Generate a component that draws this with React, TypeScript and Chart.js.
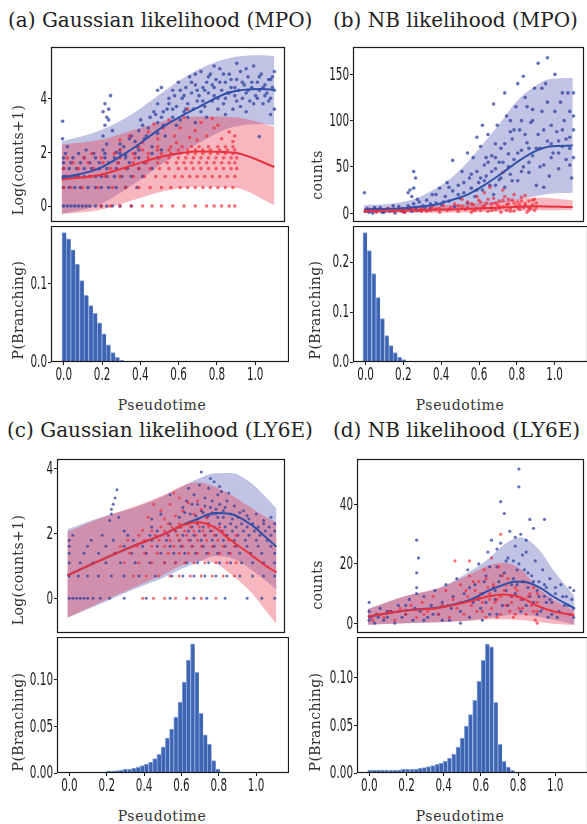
import React, { useEffect, useRef } from 'react';
import { Chart, registerables } from 'chart.js';
Chart.register(...registerables);

const TICK_FONT = "17px 'DejaVu Sans Condensed', 'DejaVu Sans', sans-serif";
const TICK_SQUEEZE = 0.68;
const SERIF = "'DejaVu Serif', 'Liberation Serif', serif";

const BLUE_FILL = 'rgba(70,78,172,0.34)';
const RED_FILL = 'rgba(236,52,78,0.36)';
const BLUE_PT = 'rgba(40,60,158,0.72)';
const RED_PT = 'rgba(240,40,55,0.68)';
const BLUE_LINE = '#2f4fa8';
const RED_LINE = '#e8323e';
const BAR_FILL = '#3e65b3';
const BAR_EDGE = '#8ba5d8';

// ---------- shared ticks ----------
const X_TICKS = [0, 0.2, 0.4, 0.6, 0.8, 1.0];
const X_MIN = -0.0665;
const X_MAX = 1.1765;

// ---------- (a) Gaussian likelihood (MPO) ----------
const aBandX = [-0.01, 0.19, 0.36, 0.53, 0.71, 0.88, 1.05, 1.12];
const aBlueUpper = [2.4, 2.8, 3.4, 4.25, 5.05, 5.5, 5.6, 5.57];
const aBlueMean = [1.04, 1.4, 2.1, 2.95, 3.65, 4.22, 4.35, 4.32];
const aBlueLower = [-0.3, 0.05, 0.75, 1.6, 2.3, 2.9, 3.05, 3.0];
const aRedX = [-0.01, 0.19, 0.36, 0.53, 0.71, 0.91, 1.12];
const aRedUpper = [2.28, 2.45, 2.8, 3.15, 3.33, 3.3, 2.95];
const aRedMean = [0.98, 1.15, 1.5, 1.85, 2.03, 1.98, 1.45];
const aRedLower = [-0.3, -0.15, 0.2, 0.55, 0.72, 0.68, 0.03];
const aBlueLevels = [0, 0.69, 1.1, 1.39, 1.61, 1.79, 1.95, 2.08];
const aBlueRows = [
  [0, 0.02, 0.04, 0.06, 0.08, 0.1, 0.12, 0.14, 0.17, 0.2, 0.23, 0.26, 0.3, 0.36],
  [0, 0.03, 0.06, 0.09, 0.13, 0.17, 0.2, 0.24, 0.28, 0.33, 0.39],
  [0, 0.01, 0.02, 0.04, 0.06, 0.08, 0.11, 0.14, 0.17, 0.2, 0.23, 0.27, 0.31, 0.36, 0.42],
  [0, 0.03, 0.07, 0.11, 0.15, 0.19, 0.23, 0.28, 0.34, 0.4, 0.47],
  [0, 0.04, 0.09, 0.14, 0.19, 0.24, 0.29, 0.35, 0.43],
  [0, 0.05, 0.11, 0.17, 0.22, 0.27, 0.33, 0.4, 0.5],
  [0.01, 0.08, 0.16, 0.22, 0.3, 0.38, 0.47],
  [0.12, 0.21, 0.3, 0.4, 0.52],
];
const aBlueCloud = [
  -0.005, 3.15, -0.005, 2.5, 0.02, 2.2, 0.21, 2.6, 0.22, 3.0, 0.23, 3.3, 0.24, 3.6, 0.22, 3.8, 0.25, 4.1,
  0.23, 2.3, 0.26, 2.8, 0.24, 3.2, 0.21, 3.5, 0.28, 2.0, 0.3, 2.3, 0.33, 1.9, 0.36, 2.6, 0.39, 2.2,
  0.41, 3.2, 0.43, 2.5, 0.45, 2.9, 0.47, 2.2, 0.49, 3.4, 0.5, 2.7, 0.5, 4.3, 0.52, 3.3, 0.54, 2.6,
  0.32, 2.2, 0.35, 2.5, 0.38, 2.4, 0.4, 2.8, 0.42, 3.0, 0.44, 2.6, 0.46, 3.3, 0.48, 3.5, 0.5, 3.1,
  0.5, 3.8, 0.52, 4.4, 0.53, 3.0, 0.55, 3.6, 0.56, 4.0, 0.58, 3.3, 0.58, 4.3, 0.6, 3.7, 0.61, 4.6,
  0.62, 3.2, 0.63, 4.0, 0.64, 3.5, 0.65, 4.4, 0.66, 3.8, 0.67, 4.8, 0.68, 4.2, 0.69, 3.6, 0.7, 4.5,
  0.71, 3.9, 0.72, 4.1, 0.73, 5.0, 0.74, 4.4, 0.75, 3.7, 0.76, 4.6, 0.77, 4.2, 0.78, 4.9, 0.79, 3.9,
  0.8, 4.4, 0.81, 4.7, 0.82, 4.0, 0.83, 5.1, 0.84, 4.3, 0.85, 3.8, 0.86, 4.6, 0.87, 4.2, 0.88, 4.9,
  0.89, 4.4, 0.9, 3.6, 0.91, 4.1, 0.92, 4.7, 0.93, 4.3, 0.94, 5.0, 0.95, 4.0, 0.96, 4.5, 0.97, 4.2,
  0.98, 4.8, 0.99, 3.9, 1.0, 4.4, 1.01, 5.2, 1.02, 4.1, 1.03, 4.6, 1.04, 4.3, 1.05, 4.9, 1.06, 3.8,
  1.07, 4.5, 1.08, 4.2, 1.09, 4.7, 1.1, 4.0, 1.11, 4.4, 1.12, 3.6, 1.12, 5.0, 1.04, 2.58, 0.76, 3.3,
  0.86, 3.4, 0.97, 3.5, 1.1, 3.4, 0.7, 3.1, 0.92, 5.3, 0.8, 5.2,
  0.56, 3.8, 0.59, 4.1, 0.62, 4.3, 0.65, 3.6, 0.68, 4.6, 0.71, 4.3, 0.74, 3.9, 0.77, 4.8, 0.8, 4.1,
  0.83, 4.6, 0.86, 4.0, 0.89, 4.7, 0.92, 3.9, 0.95, 4.6, 0.98, 4.3, 1.01, 3.8, 1.04, 4.8, 1.07, 4.1,
  1.1, 4.7, 1.12, 4.3, 0.6, 3.0, 0.66, 3.3, 0.73, 3.5, 0.79, 4.5, 0.85, 4.9, 0.91, 4.4, 0.97, 5.1,
  1.03, 4.0, 1.09, 3.9, 0.7, 4.9, 0.64, 4.1, 0.75, 4.3, 0.82, 3.6, 0.88, 4.2, 0.94, 3.7, 1.0, 4.6,
  1.06, 4.4, 1.11, 4.8, 0.58, 3.6, 0.53, 3.5,
];
const aRedLevels = [0, 0.69, 1.1, 1.39, 1.61, 1.79, 1.95, 2.08, 2.2];
const aRedRows = [
  [0.2, 0.25, 0.3, 0.36, 0.42, 0.47, 0.52, 0.58, 0.64, 0.7, 0.76, 0.8, 0.84, 0.88, 0.91],
  [0, 0.04, 0.1, 0.18, 0.26, 0.33, 0.4, 0.46, 0.52, 0.57, 0.62, 0.66, 0.7, 0.74, 0.78, 0.82, 0.86, 0.9],
  [0.02, 0.07, 0.14, 0.22, 0.3, 0.37, 0.43, 0.49, 0.54, 0.59, 0.63, 0.67, 0.71, 0.75, 0.79, 0.83, 0.87, 0.91],
  [0, 0.08, 0.16, 0.25, 0.33, 0.4, 0.46, 0.51, 0.56, 0.61, 0.65, 0.69, 0.73, 0.77, 0.81, 0.85, 0.89, 0.92],
  [0.05, 0.13, 0.21, 0.29, 0.37, 0.44, 0.5, 0.55, 0.6, 0.64, 0.68, 0.72, 0.76, 0.8, 0.84, 0.88, 0.91],
  [0.02, 0.11, 0.2, 0.3, 0.38, 0.45, 0.51, 0.56, 0.61, 0.65, 0.69, 0.73, 0.77, 0.81, 0.85, 0.89, 0.92],
  [0.15, 0.27, 0.37, 0.45, 0.52, 0.57, 0.62, 0.66, 0.7, 0.74, 0.78, 0.82, 0.86, 0.9],
  [0.3, 0.42, 0.5, 0.56, 0.61, 0.66, 0.7, 0.74, 0.78, 0.83, 0.87, 0.91],
  [0.4, 0.5, 0.57, 0.63, 0.68, 0.72, 0.77, 0.82, 0.86, 0.9],
];
const aRedCloud = [
  0.3, 2.45, 0.35, 2.6, 0.42, 2.35, 0.45, 2.75, 0.5, 2.5, 0.53, 2.9, 0.56, 3.2, 0.59, 2.6, 0.62, 2.9,
  0.64, 3.3, 0.67, 2.55, 0.7, 2.8, 0.73, 3.1, 0.76, 2.6, 0.8, 2.9, 0.84, 2.5, 0.88, 2.75, 0.91, 2.6,
  0.6, 2.35, 0.66, 3.6, 0.82, 3.0, 0.9, 2.4, 0.48, 3.05, 0.71, 2.45, 0.79, 3.25,
];
const aHistX = [0.002, 0.025, 0.048, 0.071, 0.094, 0.118, 0.141, 0.164, 0.187, 0.21, 0.233, 0.257, 0.28, 0.303];
const aHistY = [0.165, 0.157, 0.143, 0.125, 0.104, 0.085, 0.072, 0.062, 0.05, 0.036, 0.022, 0.012, 0.006, 0.002];

// ---------- (b) NB likelihood (MPO) ----------
const bBandX = [-0.007, 0.108, 0.196, 0.285, 0.373, 0.461, 0.55, 0.638, 0.727, 0.815, 0.904, 0.992, 1.116];
const bBlueUpper = [8.7, 9.5, 12, 17, 26, 38, 55, 76, 98, 121, 136, 145, 146];
const bBlueMean = [4, 4.5, 5, 7, 9, 14, 20, 30, 42, 55, 66, 72, 73];
const bBlueLower = [0.5, 0.6, 0.8, 1.2, 1.8, 2.8, 4.5, 7, 10.5, 14, 18, 21, 22];
const bRedX = [-0.007, 0.196, 0.373, 0.55, 0.727, 0.92, 1.116];
const bRedUpper = [5, 6, 8, 10, 13, 17, 14];
const bRedMean = [2.5, 3, 3.8, 4.5, 6, 7.5, 6.5];
const bRedLower = [0.2, 0.3, 0.5, 0.8, 1.5, 3, 3.5];
const bBluePts = [
  0, 2, 0.01, 5, 0.02, 1, 0.03, 3, 0.04, 0, 0.05, 4, 0.06, 2, 0.08, 6, 0.09, 1, 0.1, 3, 0.12, 5, 0.13, 2,
  0.15, 4, 0.16, 0, 0.18, 7, 0.19, 3, 0.2, 5, 0.21, 1, 0.23, 8, 0.24, 4, 0.25, 2, 0.26, 10, 0.27, 6,
  0.28, 3, 0.29, 12, -0.005, 22, 0.23, 22, 0.24, 25, 0.25, 18, 0.26, 27, 0.27, 38, 0.28, 15, 0.26, 45,
  0.31, 8, 0.33, 14, 0.35, 5, 0.36, 20, 0.38, 11, 0.4, 27, 0.41, 9, 0.43, 18, 0.44, 33, 0.45, 13,
  0.47, 24, 0.48, 7, 0.5, 30, 0.51, 16, 0.52, 45, 0.53, 22, 0.55, 11, 0.56, 38, 0.57, 27, 0.58, 60,
  0.59, 18, 0.6, 45, 0.61, 33, 0.62, 72, 0.63, 25, 0.64, 52, 0.65, 40, 0.66, 85, 0.67, 30, 0.68, 62,
  0.69, 20, 0.7, 48, 0.71, 95, 0.72, 36, 0.73, 70, 0.74, 55, 0.75, 28, 0.76, 105, 0.77, 64, 0.78, 42,
  0.79, 80, 0.8, 58, 0.81, 115, 0.82, 35, 0.83, 90, 0.84, 68, 0.85, 50, 0.86, 125, 0.87, 76, 0.88, 44,
  0.89, 98, 0.9, 62, 0.91, 135, 0.92, 30, 0.93, 85, 0.94, 70, 0.95, 110, 0.96, 52, 0.97, 140, 0.98, 78,
  0.99, 40, 1.0, 95, 1.01, 65, 1.02, 150, 1.03, 88, 1.04, 48, 1.05, 120, 1.06, 72, 1.07, 100, 1.08, 58,
  1.09, 130, 1.1, 82, 1.11, 38, 1.12, 105, 1.12, 60, 0.98, 168, 0.93, 162, 0.85, 148, 0.82, 140,
  0.75, 130, 0.69, 118, 0.55, 65, 0.6, 82, 0.63, 95, 0.47, 57, 0.7, 75, 0.78, 88, 0.9, 112, 1.0, 60,
  1.06, 90, 0.96, 28, 1.1, 52, 0.84, 100, 0.73, 38, 0.66, 55, 0.88, 70, 1.04, 78,
  0.6, 25, 0.62, 38, 0.65, 60, 0.68, 45, 0.7, 30, 0.72, 55, 0.75, 75, 0.77, 50, 0.79, 35, 0.8, 90,
  0.82, 65, 0.84, 45, 0.86, 85, 0.88, 55, 0.9, 100, 0.92, 70, 0.94, 50, 0.96, 90, 0.98, 120, 1.0, 75,
  1.02, 110, 1.04, 65, 1.06, 130, 1.08, 80, 1.1, 110, 1.12, 90, 1.12, 130, 1.1, 70, 0.95, 135,
  0.87, 115, 0.78, 100, 0.7, 60, 0.64, 35, 0.57, 42, 0.53, 33, 0.5, 20, 0.45, 28, 0.42, 12, 0.38, 20,
  0.35, 10, 0.32, 6, 0.3, 3, 0.2, 2, 0.1, 1, 0.05, 6, 0.15, 8,
];
const bRedPts = [
  0, 2, 0.03, 4, 0.06, 1, 0.09, 3, 0.12, 5, 0.15, 2, 0.18, 4, 0.21, 1, 0.24, 6, 0.27, 3, 0.3, 5, 0.33, 2,
  0.36, 7, 0.38, 4, 0.4, 1, 0.42, 8, 0.44, 3, 0.46, 6, 0.48, 10, 0.5, 2, 0.52, 7, 0.54, 4, 0.55, 12,
  0.57, 1, 0.58, 9, 0.6, 5, 0.61, 14, 0.62, 3, 0.64, 8, 0.65, 11, 0.66, 2, 0.68, 6, 0.69, 16, 0.7, 4,
  0.71, 9, 0.72, 13, 0.73, 1, 0.74, 7, 0.75, 18, 0.76, 3, 0.77, 10, 0.78, 5, 0.79, 14, 0.8, 2, 0.81, 8,
  0.82, 12, 0.83, 4, 0.84, 17, 0.85, 6, 0.86, 10, 0.87, 1, 0.88, 13, 0.89, 5, 0.9, 9, 0.91, 3, 0.92, 11,
  0.64, 22, 0.74, 44, 0.67, 28, 0.74, 25, 0.6, 18, 0.52, 15, 0.8, 20, 0.86, 19, 0.58, 3, 0.63, 6,
  0.68, 10, 0.72, 5, 0.77, 15, 0.83, 9, 0.88, 6, 0.91, 15,
  0.55, 6, 0.57, 10, 0.59, 3, 0.62, 12, 0.64, 5, 0.66, 15, 0.68, 3, 0.7, 11, 0.72, 7, 0.74, 14,
  0.76, 9, 0.78, 2, 0.8, 11, 0.82, 6, 0.84, 13, 0.86, 8, 0.88, 3, 0.9, 14, 0.92, 6, 0.5, 8, 0.45, 4,
  0.4, 5, 0.35, 3, 0.3, 2, 0.25, 4, 0.2, 2,
];
const bHistX = [-0.003, 0.02, 0.043, 0.066, 0.089, 0.112, 0.134, 0.157, 0.18, 0.203];
const bHistY = [0.259, 0.223, 0.177, 0.129, 0.087, 0.053, 0.033, 0.019, 0.01, 0.005];

// ---------- (c) Gaussian likelihood (LY6E) ----------
const cBandX = [-0.01, 0.16, 0.34, 0.52, 0.63, 0.7, 0.79, 0.88, 0.99, 1.06, 1.13];
const cBlueUpper = [2.13, 2.48, 2.77, 3.17, 3.5, 3.68, 3.86, 3.87, 3.57, 3.2, 2.77];
const cBlueMean = [0.71, 1.15, 1.59, 1.99, 2.3, 2.45, 2.63, 2.6, 2.28, 1.95, 1.59];
const cBlueLower = [-0.6, -0.2, 0.25, 0.65, 0.95, 1.1, 1.3, 1.25, 0.9, 0.6, 0.27];
const cRedUpper = [2.05, 2.45, 2.8, 3.2, 3.5, 3.58, 3.45, 3.2, 2.8, 2.55, 2.35];
const cRedMean = [0.71, 1.15, 1.59, 1.99, 2.28, 2.35, 2.2, 1.8, 1.35, 1.05, 0.8];
const cRedLower = [-0.6, -0.15, 0.3, 0.75, 1.05, 1.15, 1.1, 0.75, 0.2, -0.3, -0.8];
const cBlueLevels = [0, 0.69, 1.1, 1.39, 1.61, 1.79, 1.95, 2.08, 2.2, 2.3];
const cBlueRows = [
  [0, 0.02, 0.04, 0.06, 0.08, 0.1, 0.13, 0.17, 0.22, 0.3, 0.42, 0.55, 0.68, 0.75, 0.85, 0.97, 1.05, 1.12],
  [0, 0.05, 0.1, 0.16, 0.23, 0.3, 0.38, 0.47, 0.56, 0.62, 0.68, 0.74, 0.8, 0.86, 0.93, 1.0, 1.06, 1.12],
  [0, 0.06, 0.13, 0.2, 0.28, 0.36, 0.44, 0.52, 0.58, 0.64, 0.7, 0.76, 0.82, 0.88, 0.94, 1.0, 1.06, 1.12],
  [0, 0.08, 0.16, 0.25, 0.34, 0.42, 0.5, 0.57, 0.63, 0.69, 0.75, 0.81, 0.87, 0.93, 0.99, 1.05, 1.12],
  [0, 0.1, 0.2, 0.3, 0.4, 0.48, 0.55, 0.61, 0.67, 0.73, 0.79, 0.85, 0.91, 0.97, 1.03, 1.1],
  [0, 0.12, 0.24, 0.35, 0.45, 0.53, 0.6, 0.66, 0.72, 0.78, 0.84, 0.9, 0.96, 1.02, 1.08],
  [0.02, 0.18, 0.32, 0.44, 0.54, 0.62, 0.68, 0.74, 0.8, 0.86, 0.92, 0.98, 1.04, 1.1],
  [0.3, 0.48, 0.58, 0.65, 0.71, 0.77, 0.83, 0.89, 0.95, 1.01, 1.07, 1.12],
  [0.45, 0.6, 0.67, 0.73, 0.79, 0.85, 0.91, 0.97, 1.03, 1.09],
  [0.55, 0.64, 0.7, 0.76, 0.82, 0.88, 0.94, 1.0, 1.06, 1.12],
];
const cBlueCloud = [
  0.22, 2.4, 0.23, 2.6, 0.24, 2.9, 0.25, 3.1, 0.26, 3.35, 0.23, 2.75, 0.27, 2.5, 0.6, 2.5, 0.62, 2.8,
  0.64, 3.0, 0.66, 2.6, 0.68, 3.2, 0.7, 2.9, 0.71, 3.5, 0.72, 2.7, 0.74, 3.1, 0.75, 2.5, 0.76, 3.4,
  0.77, 2.8, 0.78, 3.0, 0.79, 3.6, 0.8, 2.6, 0.81, 3.2, 0.82, 2.9, 0.83, 3.3, 0.84, 2.7, 0.86, 3.0,
  0.88, 2.6, 0.9, 2.85, 0.92, 2.5, 0.95, 2.7, 0.98, 2.45, 1.02, 2.6, 1.06, 2.4, 1.1, 2.5, 0.72, 3.9,
  0.55, 3.2, 0.5, 2.6, 0.45, 2.45, 0.69, 2.55, 0.73, 2.65, 0.76, 2.55, 0.8, 2.75, 0.84, 2.5, 0.87, 3.25,
  0.63, 2.65, 0.67, 2.9, 0.7, 2.45, 0.74, 2.85, 0.78, 2.6, 0.81, 2.5, 0.85, 2.8, 0.89, 2.45, 0.93, 2.65,
  0.97, 2.55, 0.65, 3.4, 0.77, 3.7, 0.82, 3.45,
];
const cRedLevels = [0, 0.69, 1.1, 1.39, 1.61, 1.79, 1.95, 2.08, 2.2, 2.3];
const cRedRows = [
  [0.4, 0.46, 0.52, 0.58, 0.64, 0.72, 0.8],
  [0.35, 0.42, 0.49, 0.55, 0.6, 0.66, 0.72, 0.78, 0.84, 0.9],
  [0.3, 0.38, 0.45, 0.52, 0.58, 0.63, 0.68, 0.74, 0.8, 0.86, 0.91],
  [0.25, 0.33, 0.41, 0.48, 0.54, 0.6, 0.65, 0.7, 0.76, 0.82, 0.88],
  [0.28, 0.37, 0.45, 0.52, 0.57, 0.62, 0.67, 0.72, 0.78, 0.84, 0.9],
  [0.32, 0.41, 0.49, 0.55, 0.6, 0.65, 0.7, 0.75, 0.81, 0.87],
  [0.38, 0.47, 0.54, 0.59, 0.64, 0.69, 0.74, 0.79, 0.85, 0.91],
  [0.45, 0.52, 0.58, 0.63, 0.68, 0.73, 0.78, 0.84],
  [0.5, 0.56, 0.61, 0.66, 0.71, 0.76, 0.82],
  [0.54, 0.6, 0.65, 0.7, 0.75],
];
const cRedCloud = [
  0.4, 2.1, 0.43, 2.5, 0.5, 2.7, 0.52, 2.45, 0.55, 2.9, 0.58, 2.55, 0.6, 3.1, 0.62, 2.7, 0.65, 2.95,
  0.68, 2.6, 0.7, 3.0, 0.72, 2.75, 0.75, 2.5, 0.78, 2.65, 0.46, 2.9, 0.57, 3.25,
];
const cHistX = [
  0.075, 0.0975, 0.12, 0.1425, 0.165, 0.1875, 0.21, 0.2325, 0.255, 0.2775, 0.3, 0.3225, 0.345, 0.3675,
  0.39, 0.4125, 0.435, 0.4575, 0.48, 0.5025, 0.525, 0.5475, 0.57, 0.5925, 0.615, 0.6375, 0.66, 0.6825,
  0.705, 0.7275, 0.75, 0.7725, 0.795,
];
const cHistY = [
  0.001, 0.001, 0.001, 0.001, 0.0011, 0.0011, 0.0021, 0.0021, 0.0025, 0.0032, 0.0043, 0.0043, 0.0054,
  0.0064, 0.0079, 0.0096, 0.0118, 0.0154, 0.02, 0.028, 0.0375, 0.047, 0.06, 0.076, 0.0975, 0.121, 0.1386,
  0.108, 0.064, 0.041, 0.031, 0.0132, 0.0043,
];

// ---------- (d) NB likelihood (LY6E) ----------
const dBlueX = [-0.007, 0.199, 0.379, 0.558, 0.648, 0.738, 0.792, 0.828, 0.864, 0.935, 1.007, 1.124];
const dBlueUpper = [4.8, 9.2, 11.8, 17.7, 21.5, 26.5, 28.5, 29, 28.3, 24.5, 18, 9.2];
const dBlueMean = [2.2, 4.3, 5.3, 8, 10.8, 13, 14, 14, 13.8, 12, 9, 5];
const dBlueLower = [-0.5, 0, 0.3, 1, 1.8, 2.5, 2.8, 2.8, 2.7, 2.2, 1.2, -0.5];
const dRedX = [-0.007, 0.199, 0.379, 0.558, 0.648, 0.738, 0.828, 0.918, 1.007, 1.124];
const dRedUpper = [4.8, 9.2, 11.8, 16.7, 19.4, 20.4, 18.3, 12.4, 8.1, 4.3];
const dRedMean = [2.2, 4.3, 5.1, 7.5, 9, 9.7, 8.8, 5.9, 4.0, 2.7];
const dRedLower = [-0.5, 0, 0.3, 0.8, 1.2, 1.3, 1.1, 0.5, -0.2, -0.6];
const dBluePts = [
  0, 1, 0, 4, 0, 7, 0.01, 2, 0.03, 0, 0.04, 3, 0.06, 5, 0.08, 1, 0.1, 2, 0.12, 4, 0.14, 0, 0.16, 6,
  0.18, 2, 0.2, 3, 0.22, 8, 0.24, 1, 0.25, 5, 0.26, 12, 0.26, 17, 0.27, 22, 0.26, 28, 0.26, 10, 0.28, 4,
  0.3, 9, 0.32, 2, 0.34, 6, 0.36, 11, 0.38, 3, 0.4, 7, 0.42, 13, 0.44, 1, 0.46, 9, 0.48, 15, 0.5, 4,
  0.52, 10, 0.54, 18, 0.55, 2, 0.57, 7, 0.58, 13, 0.6, 20, 0.61, 5, 0.62, 10, 0.64, 16, 0.65, 24,
  0.66, 3, 0.68, 12, 0.69, 8, 0.7, 19, 0.71, 14, 0.72, 27, 0.73, 6, 0.74, 17, 0.75, 11, 0.76, 22,
  0.77, 31, 0.78, 9, 0.79, 15, 0.8, 26, 0.81, 13, 0.82, 46, 0.82, 52, 0.82, 20, 0.83, 30, 0.84, 8,
  0.85, 18, 0.86, 24, 0.87, 12, 0.88, 35, 0.89, 16, 0.9, 7, 0.91, 21, 0.92, 11, 0.93, 14, 0.94, 4,
  0.95, 18, 0.96, 9, 0.97, 12, 0.98, 2, 0.99, 15, 1.0, 7, 1.02, 10, 1.04, 4, 1.05, 13, 1.07, 6,
  1.08, 9, 1.1, 3, 1.11, 8, 1.12, 5, 1.12, 11, 0.72, 41, 0.74, 37, 0.96, 35, 0.9, 32, 0.67, 28,
  0.8, 10, 0.86, 6, 0.92, 3, 0.97, 7, 1.03, 2, 1.09, 6, 0.79, 21, 0.84, 14, 0.62, 1, 0.5, 0, 0.4, 1,
  0.6, 8, 0.63, 14, 0.66, 19, 0.69, 11, 0.72, 16, 0.75, 21, 0.78, 13, 0.81, 18, 0.84, 23, 0.87, 17,
  0.9, 14, 0.93, 9, 0.96, 13, 0.99, 8, 1.02, 12, 1.06, 9, 1.1, 12, 1.12, 2, 0.7, 3, 0.76, 6, 0.83, 4,
  0.88, 9, 0.95, 5, 1.0, 3, 0.45, 5, 0.35, 3, 0.2, 6, 0.1, 4, 0.05, 2, 0.3, 1, 0.55, 12, 0.64, 7,
  0.7, 25, 0.8, 29, 0.86, 28,
];
const dRedPts = [
  0.02, 1, 0.05, 3, 0.08, 2, 0.11, 4, 0.14, 1, 0.17, 5, 0.2, 3, 0.23, 6, 0.26, 2, 0.29, 7, 0.32, 4,
  0.35, 9, 0.38, 3, 0.4, 6, 0.42, 11, 0.44, 2, 0.46, 8, 0.48, 5, 0.5, 13, 0.52, 3, 0.54, 9, 0.55, 16,
  0.56, 6, 0.58, 11, 0.59, 4, 0.6, 14, 0.62, 7, 0.63, 18, 0.64, 2, 0.66, 10, 0.67, 5, 0.68, 13, 0.7, 8,
  0.71, 19, 0.72, 3, 0.74, 11, 0.75, 6, 0.76, 15, 0.78, 9, 0.79, 2, 0.8, 12, 0.82, 5, 0.83, 8, 0.85, 14,
  0.86, 3, 0.88, 10, 0.89, 6, 0.9, 12, 0.91, 1, 0.92, 7, 0.92, 4, 0.92, 0, 0.92, 10, 0.47, 21,
  0.55, 21, 0.72, 30, 0.67, 22, 0.6, 9, 0.65, 12, 0.69, 7, 0.73, 16, 0.77, 4, 0.81, 9,
  0.5, 7, 0.53, 11, 0.57, 14, 0.61, 10, 0.64, 15, 0.66, 8, 0.69, 12, 0.72, 9, 0.75, 13, 0.78, 7,
  0.81, 11, 0.84, 5, 0.87, 9, 0.9, 4, 0.3, 3, 0.36, 5, 0.43, 6, 0.62, 4, 0.7, 2, 0.8, 3,
];
const dHistX = [
  0.002, 0.025, 0.047, 0.07, 0.092, 0.115, 0.138, 0.16, 0.183, 0.205, 0.228, 0.251, 0.273, 0.296, 0.318,
  0.341, 0.364, 0.386, 0.409, 0.431, 0.454, 0.477, 0.499, 0.522, 0.544, 0.567, 0.59, 0.612, 0.635, 0.657,
  0.68, 0.703, 0.725, 0.748, 0.77,
];
const dHistY = [
  0.0031, 0.0031, 0.0031, 0.0031, 0.0031, 0.0031, 0.0031, 0.0031, 0.0042, 0.0042, 0.0042, 0.0042, 0.0052,
  0.0056, 0.0066, 0.0077, 0.0091, 0.0105, 0.0126, 0.0157, 0.0199, 0.027, 0.0366, 0.049, 0.061, 0.076,
  0.096, 0.118, 0.135, 0.132, 0.074, 0.03, 0.0122, 0.0063, 0.0028,
];

// ---------- helpers ----------
type Pt = { x: number; y: number };
function curve(xs: number[], ys: number[]): Pt[] {
  return xs.map((x, i) => ({ x, y: ys[i] }));
}
function pairs(flat: number[]): Pt[] {
  const out: Pt[] = [];
  for (let i = 0; i + 1 < flat.length; i += 2) out.push({ x: flat[i], y: flat[i + 1] });
  return out;
}
function rows(levels: number[], rs: number[][]): Pt[] {
  const out: Pt[] = [];
  levels.forEach((lv, i) => (rs[i] || []).forEach((x) => out.push({ x, y: lv })));
  return out;
}

const Y_W = 44;
const X_H = 28;

type Box = { l: number; t: number; r: number; b: number };
type Spec = {
  kind: 'top' | 'hist';
  box: Box;
  yMin: number;
  yMax: number;
  yTicks: number[];
  yDec: number;
  datasets: any[];
};

function band(xs: number[], up: number[], lo: number[], color: string, order: number) {
  return [
    { data: curve(xs, up), borderWidth: 0, borderColor: 'rgba(0,0,0,0)', pointRadius: 0, fill: false, tension: 0.4, cubicInterpolationMode: 'monotone', order },
    { data: curve(xs, lo), borderWidth: 0, borderColor: 'rgba(0,0,0,0)', pointRadius: 0, fill: '-1', backgroundColor: color, tension: 0.4, cubicInterpolationMode: 'monotone', order },
  ];
}
function meanLine(xs: number[], ys: number[], color: string, order: number) {
  return { data: curve(xs, ys), borderWidth: 2, borderColor: color, pointRadius: 0, fill: false, tension: 0.4, cubicInterpolationMode: 'monotone', order };
}
function dots(pts: Pt[], color: string, order: number, r = 1.7) {
  return { data: pts, showLine: false, pointRadius: r, pointBorderWidth: 0, pointBackgroundColor: color, borderColor: color, fill: false, order };
}
function hist(xs: number[], ys: number[]) {
  return {
    data: curve(xs, ys),
    backgroundColor: BAR_FILL,
    borderColor: BAR_EDGE,
    borderWidth: { top: 1, left: 1, right: 0, bottom: 0 },
    borderSkipped: false,
    barPercentage: 1,
    categoryPercentage: 1,
  };
}

function topDatasets(
  bx: number[], bu: number[], bm: number[], bl: number[],
  rx: number[], ru: number[], rm: number[], rl: number[],
  bPts: Pt[], rPts: Pt[], r = 1.7,
) {
  return [
    ...band(bx, bu, bl, BLUE_FILL, 30),
    ...band(rx, ru, rl, RED_FILL, 20),
    dots(bPts, BLUE_PT, 12, r),
    dots(rPts, RED_PT, 11, r),
    meanLine(bx, bm, BLUE_LINE, 2),
    meanLine(rx, rm, RED_LINE, 1),
  ];
}

const SPECS: Spec[] = [
  {
    kind: 'top', box: { l: 51, t: 43, r: 289, b: 226 }, yMin: -0.593, yMax: 5.908, yTicks: [0, 2, 4], yDec: 0,
    datasets: topDatasets(aBandX, aBlueUpper, aBlueMean, aBlueLower, aRedX, aRedUpper, aRedMean, aRedLower,
      [...rows(aBlueLevels, aBlueRows), ...pairs(aBlueCloud)], [...rows(aRedLevels, aRedRows), ...pairs(aRedCloud)], 1.8),
  },
  {
    kind: 'hist', box: { l: 51, t: 226, r: 289, b: 362 }, yMin: 0, yMax: 0.1735, yTicks: [0, 0.1], yDec: 1,
    datasets: [hist(aHistX, aHistY)],
  },
  {
    kind: 'top', box: { l: 353, t: 43, r: 588, b: 226 }, yMin: -9.6, yMax: 179.6, yTicks: [0, 50, 100, 150], yDec: 0,
    datasets: topDatasets(bBandX, bBlueUpper, bBlueMean, bBlueLower, bRedX, bRedUpper, bRedMean, bRedLower,
      pairs(bBluePts), pairs(bRedPts), 1.8),
  },
  {
    kind: 'hist', box: { l: 353, t: 226, r: 588, b: 362 }, yMin: 0, yMax: 0.272, yTicks: [0, 0.1, 0.2], yDec: 1,
    datasets: [hist(bHistX, bHistY)],
  },
  {
    kind: 'top', box: { l: 57, t: 455, r: 289, b: 637 }, yMin: -1.07, yMax: 4.3, yTicks: [0, 2, 4], yDec: 0,
    datasets: topDatasets(cBandX, cBlueUpper, cBlueMean, cBlueLower, cBandX, cRedUpper, cRedMean, cRedLower,
      [...rows(cBlueLevels, cBlueRows), ...pairs(cBlueCloud)], [...rows(cRedLevels, cRedRows), ...pairs(cRedCloud)], 1.5),
  },
  {
    kind: 'hist', box: { l: 57, t: 637, r: 289, b: 773 }, yMin: 0, yMax: 0.1458, yTicks: [0, 0.05, 0.1], yDec: 2,
    datasets: [hist(cHistX, cHistY)],
  },
  {
    kind: 'top', box: { l: 357, t: 455, r: 588, b: 637 }, yMin: -3.32, yMax: 55.4, yTicks: [0, 20, 40], yDec: 0,
    datasets: topDatasets(dBlueX, dBlueUpper, dBlueMean, dBlueLower, dRedX, dRedUpper, dRedMean, dRedLower,
      pairs(dBluePts), pairs(dRedPts), 1.6),
  },
  {
    kind: 'hist', box: { l: 357, t: 637, r: 588, b: 773 }, yMin: 0, yMax: 0.1423, yTicks: [0, 0.05, 0.1], yDec: 2,
    datasets: [hist(dHistX, dHistY)],
  },
];

const framePlugin = {
  id: 'frame',
  afterDraw(chart: any) {
    const { ctx, chartArea: a } = chart;
    ctx.save();
    ctx.strokeStyle = '#1a1a1a';
    ctx.lineWidth = 1.2;
    ctx.strokeRect(a.left + 0.5, a.top + 0.5, a.right - a.left - 1, a.bottom - a.top - 1);
    ctx.restore();
  },
};

// Tick labels in a condensed face, placed with the chart's own scales.
function makeTickLabelPlugin(spec: Spec) {
  return {
    id: 'condensedTicks',
    afterDraw(chart: any) {
      const { ctx, chartArea: a, scales } = chart;
      ctx.save();
      ctx.font = TICK_FONT;
      ctx.fillStyle = '#1a1a1a';
      const ys = scales.y;
      ys.ticks.forEach((t: any) => {
        const py = ys.getPixelForValue(t.value);
        ctx.save();
        ctx.translate(a.left - 4, py);
        ctx.scale(TICK_SQUEEZE, 1);
        ctx.textAlign = 'right';
        ctx.textBaseline = 'middle';
        ctx.fillText(Number(t.value).toFixed(spec.yDec), 0, 1);
        ctx.restore();
      });
      if (spec.kind === 'hist') {
        const xs = scales.x;
        xs.ticks.forEach((t: any) => {
          const px = xs.getPixelForValue(t.value);
          ctx.save();
          ctx.translate(px, a.bottom + 5);
          ctx.scale(TICK_SQUEEZE, 1);
          ctx.textAlign = 'center';
          ctx.textBaseline = 'top';
          ctx.fillText(Number(t.value).toFixed(1), 0, 0);
          ctx.restore();
        });
      }
      ctx.restore();
    },
  };
}

function buildConfig(spec: Spec): any {
  const isHist = spec.kind === 'hist';
  const grid = { display: true, drawOnChartArea: false, drawTicks: true, tickLength: 3, color: '#1a1a1a', lineWidth: 1 };
  return {
    type: isHist ? 'bar' : 'line',
    data: { datasets: spec.datasets },
    plugins: [framePlugin, makeTickLabelPlugin(spec)],
    options: {
      animation: false,
      responsive: false,
      devicePixelRatio: 1,
      events: [],
      layout: { padding: 0 },
      plugins: { legend: { display: false }, tooltip: { enabled: false }, title: { display: false } },
      scales: {
        x: {
          type: 'linear',
          min: X_MIN,
          max: X_MAX,
          offset: false,
          display: isHist,
          grid: { ...grid, offset: false },
          border: { display: false },
          afterBuildTicks: (ax: any) => { ax.ticks = X_TICKS.map((v) => ({ value: v })); },
          afterFit: (ax: any) => { ax.height = isHist ? X_H : 0; ax.paddingLeft = 0; ax.paddingRight = 0; },
          ticks: { display: false, autoSkip: false, maxRotation: 0, minRotation: 0 },
        },
        y: {
          type: 'linear',
          min: spec.yMin,
          max: spec.yMax,
          grid,
          border: { display: false },
          afterBuildTicks: (ax: any) => { ax.ticks = spec.yTicks.map((v) => ({ value: v })); },
          afterFit: (ax: any) => { ax.width = Y_W; ax.paddingTop = 0; ax.paddingBottom = 0; },
          ticks: { display: false, autoSkip: false },
        },
      },
    },
  };
}

function ChartBox({ spec }: { spec: Spec }) {
  const ref = useRef<HTMLCanvasElement | null>(null);
  useEffect(() => {
    if (!ref.current) return;
    const chart = new Chart(ref.current, buildConfig(spec));
    return () => chart.destroy();
  }, [spec]);
  const left = spec.box.l - Y_W;
  const width = spec.box.r - left;
  const height = spec.box.b - spec.box.t + (spec.kind === 'hist' ? X_H : 0);
  return (
    <canvas
      ref={ref}
      width={width}
      height={height}
      style={{ position: 'absolute', left, top: spec.box.t, width, height, display: 'block' }}
    />
  );
}

const TITLES = [
  { text: '(a) Gaussian likelihood (MPO)', x: 8, y: 10 },
  { text: '(b) NB likelihood (MPO)', x: 333, y: 10 },
  { text: '(c) Gaussian likelihood (LY6E)', x: 7, y: 420 },
  { text: '(d) NB likelihood (LY6E)', x: 333, y: 420 },
];
const X_LABELS = [
  { text: 'Pseudotime', x: 162, y: 405 },
  { text: 'Pseudotime', x: 460, y: 405 },
  { text: 'Pseudotime', x: 162, y: 816 },
  { text: 'Pseudotime', x: 460, y: 816 },
];
const Y_LABELS = [
  { text: 'Log(counts+1)', x: 17.5, y: 160 },
  { text: 'P(Branching)', x: 17.5, y: 310 },
  { text: 'counts', x: 316.5, y: 175 },
  { text: 'P(Branching)', x: 315, y: 310 },
  { text: 'Log(counts+1)', x: 17.5, y: 570 },
  { text: 'P(Branching)', x: 17.5, y: 722 },
  { text: 'counts', x: 316.5, y: 585 },
  { text: 'P(Branching)', x: 315, y: 722 },
];

export default function App() {
  return (
    <div style={{ position: 'absolute', left: 0, top: 0, width: 587, height: 824, overflow: 'hidden', background: '#fff' }}>
      {SPECS.map((s, i) => <ChartBox key={i} spec={s} />)}
      {TITLES.map((t, i) => (
        <div key={'t' + i} style={{ position: 'absolute', left: t.x, top: t.y, fontFamily: SERIF, fontSize: 20, lineHeight: '20px', color: '#222', whiteSpace: 'nowrap' }}>{t.text}</div>
      ))}
      {X_LABELS.map((t, i) => (
        <div key={'x' + i} style={{ position: 'absolute', left: t.x, top: t.y, transform: 'translate(-50%, -50%)', fontFamily: SERIF, fontSize: 14, lineHeight: '16px', color: '#333', whiteSpace: 'nowrap', letterSpacing: 0.6 }}>{t.text}</div>
      ))}
      {Y_LABELS.map((t, i) => (
        <div key={'y' + i} style={{ position: 'absolute', left: t.x, top: t.y, transform: 'translate(-50%, -50%) rotate(-90deg)', fontFamily: SERIF, fontSize: 14, lineHeight: '16px', color: '#333', whiteSpace: 'nowrap', letterSpacing: 0.4 }}>{t.text}</div>
      ))}
    </div>
  );
}
